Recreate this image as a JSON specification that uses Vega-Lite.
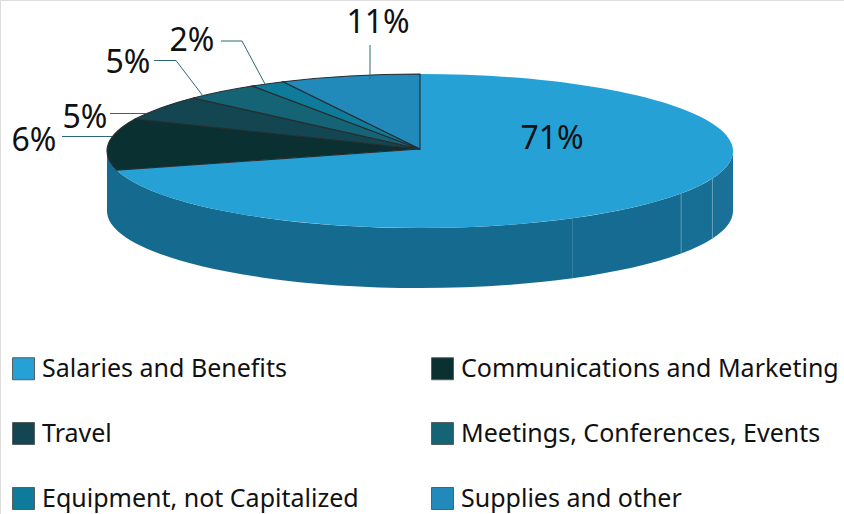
{
"$schema":"https://vega.github.io/schema/vega-lite/v6.json",
"width":844,"height":514,"padding":0,"autosize":{"type":"none"},
"background":"white",
"datasets":{
"slices":[
{"order":1,"category":"Salaries and Benefits","share":0.71,"sweep":71},
{"order":2,"category":"Communications and Marketing","share":0.06,"sweep":10.8},
{"order":3,"category":"Travel","share":0.05,"sweep":5.3},
{"order":4,"category":"Meetings, Conferences, Events","share":0.05,"sweep":3.9},
{"order":5,"category":"Equipment, not Capitalized","share":0.02,"sweep":1.8},
{"order":6,"category":"Supplies and other","share":0.11,"sweep":7.2}
],
"sides":[
{"segment":"a","startPct":25,"endPct":30.8},
{"segment":"b","startPct":30.8,"endPct":34.3},
{"segment":"c","startPct":34.3,"endPct":41.9},
{"segment":"d","startPct":41.9,"endPct":75}
]},
"layer":[
{"data":{"name":"sides"},
 "transform":[
 {"calculate":"round((-2+313*sin(datum.startPct*PI/50))*100)/100","as":"x0"},
 {"calculate":"round((-106-77*cos(datum.startPct*PI/50))*100)/100","as":"y0"},
 {"calculate":"round((-2+313*sin(datum.endPct*PI/50))*100)/100","as":"x1"},
 {"calculate":"round((-106-77*cos(datum.endPct*PI/50))*100)/100","as":"y1"},
 {"calculate":"'M'+datum.x0+','+datum.y0+' A313,77 0 0 1 '+datum.x1+','+datum.y1+' L'+datum.x1+','+(datum.y1+60)+' A313,77 0 0 0 '+datum.x0+','+(datum.y0+60)+' Z'","as":"path"}
 ],
 "mark":{"type":"point","filled":true,"opacity":1,"size":4,"strokeWidth":0},
 "encoding":{
  "shape":{"field":"path","type":"nominal","scale":null,"legend":null},
  "fill":{"field":"segment","type":"nominal","legend":null,"scale":{"domain":["a","b","c","d"],"range":["#1b7098","#186f95","#156b91","#156a8f"]}}
 }},
{"data":{"name":"sides"},
 "transform":[
 {"filter":"datum.startPct>25"},
 {"calculate":"round((-2+313*sin(datum.startPct*PI/50))*100)/100","as":"x0"},
 {"calculate":"round((-106-77*cos(datum.startPct*PI/50))*100)/100","as":"y0"},
 {"calculate":"'M'+datum.x0+','+datum.y0+' L'+datum.x0+','+(datum.y0+60)","as":"path"}
 ],
 "mark":{"type":"point","filled":false,"opacity":1,"size":4,"strokeWidth":0.8},
 "encoding":{
  "shape":{"field":"path","type":"nominal","scale":null,"legend":null},
  "stroke":{"field":"segment","type":"nominal","legend":null,"scale":{"domain":["b","c","d"],"range":["#6ba3ba","#6ba3ba","#2a7a9c"]}}
 }},
{"data":{"name":"slices"},
 "transform":[
 {"window":[{"op":"sum","field":"sweep","as":"endPct"}],"sort":[{"field":"order"}]},
 {"calculate":"datum.endPct-datum.sweep","as":"startPct"},
 {"calculate":"round((-2+313*sin(datum.startPct*PI/50))*100)/100","as":"x0"},
 {"calculate":"round((-106-77*cos(datum.startPct*PI/50))*100)/100","as":"y0"},
 {"calculate":"round((-2+313*sin(datum.endPct*PI/50))*100)/100","as":"x1"},
 {"calculate":"round((-106-77*cos(datum.endPct*PI/50))*100)/100","as":"y1"},
 {"calculate":"'M-2,-108 L'+datum.x0+','+datum.y0+' A313,77 0 '+(datum.sweep>50?1:0)+' 1 '+datum.x1+','+datum.y1+' Z'","as":"path"}
 ],
 "mark":{"type":"point","filled":true,"opacity":1,"size":4,"stroke":"#262d30"},
 "encoding":{
  "shape":{"field":"path","type":"nominal","scale":null,"legend":null},
  "strokeWidth":{"condition":{"test":"datum.order==1","value":0},"value":1.1},
  "color":{"field":"category","type":"nominal",
   "scale":{"domain":["Salaries and Benefits","Communications and Marketing","Travel","Meetings, Conferences, Events","Equipment, not Capitalized","Supplies and other"],
            "range":["#26a1d6","#0a3032","#134651","#146475","#0f7b9a","#228abb"]},
   "legend":{"orient":"none","legendX":11,"legendY":356,"title":null,"direction":"horizontal","columns":2,"symbolType":"square","symbolSize":484,"symbolStrokeColor":"#555e60","symbolStrokeWidth":1,"symbolOpacity":1,"labelFont":"Noto Sans","labelFontSize":25,"labelColor":"#111","labelOffset":6,"labelLimit":500,"rowPadding":38,"columnPadding":70,"padding":0,"gridAlign":"each","symbolOffset":0}}
 }},
{"data":{"name":"slices"},
 "transform":[{"filter":"datum.order>1"}],
 "mark":{"type":"point","filled":false,"opacity":1,"size":4,"stroke":"#2a6a72","strokeWidth":1},
 "encoding":{
  "shape":{"field":"category","type":"nominal","legend":null,"scale":{
   "domain":["Communications and Marketing","Travel","Meetings, Conferences, Events","Equipment, not Capitalized","Supplies and other"],
   "range":["M-360,-120.5 L-310,-120.5","M-312,-143.5 L-276,-143.5","M-268,-196.5 L-246,-196.5 L-219,-161","M-201,-216 L-180,-216 L-157,-173","M-52,-212 L-52,-178"]}}
 }},
{"data":{"name":"slices"},
 "mark":{"type":"text","font":"Noto Sans","fontSize":32,"color":"#111","align":"center","baseline":"middle"},
 "encoding":{
  "x":{"field":"order","type":"quantitative","axis":null,"scale":{"domain":[1,2,3,4,5,6],"range":[552,34,85,128,192,378]}},
  "y":{"field":"order","type":"quantitative","axis":null,"scale":{"domain":[1,2,3,4,5,6],"range":[139,141,118,63,41,23]}},
  "text":{"field":"share","type":"quantitative","format":".0%"}
 }}
]
}
